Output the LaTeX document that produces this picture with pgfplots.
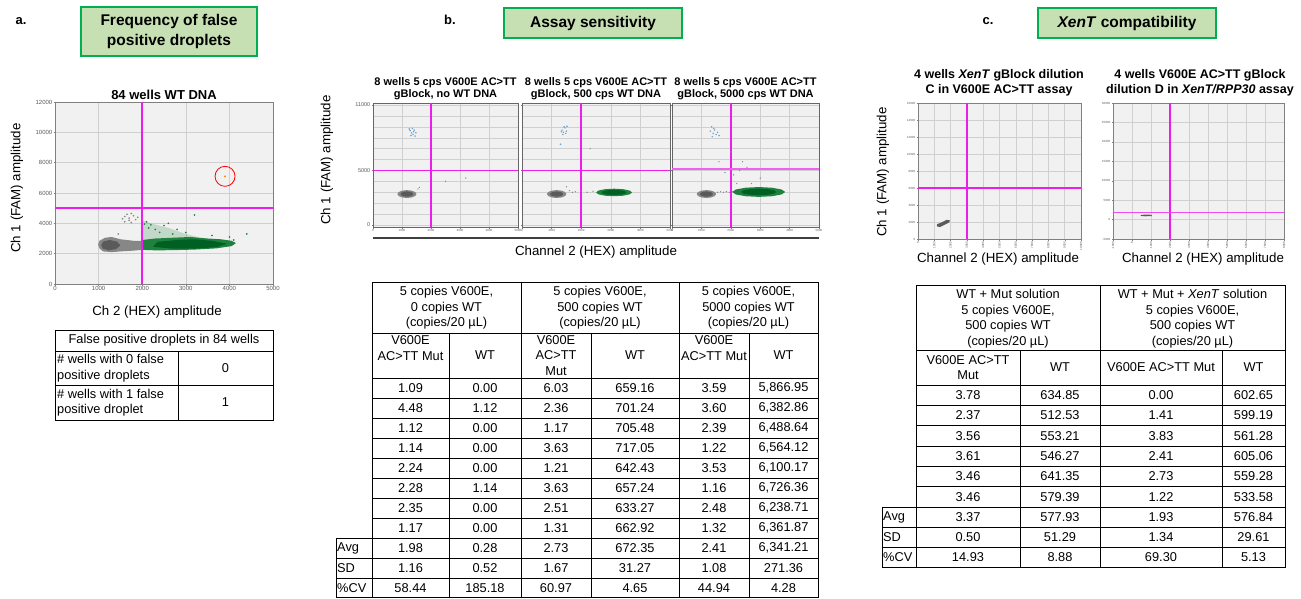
\documentclass[border=0pt]{standalone}
\usepackage{fontspec}
\setmainfont{Liberation Sans}
\usepackage{pgfplots}
\pgfplotsset{compat=1.18}

\definecolor{magen}{RGB}{235,30,235}
\definecolor{bggray}{RGB}{241,241,241}
\definecolor{gridg}{RGB}{208,208,208}
\definecolor{dgray}{RGB}{90,90,90}
\definecolor{lgray}{RGB}{135,135,135}
\definecolor{dgreen}{RGB}{0,95,35}
\definecolor{lgreen}{RGB}{30,130,60}
\definecolor{dblue}{RGB}{110,160,200}
\definecolor{boxfill}{RGB}{198,224,180}
\definecolor{boxedge}{RGB}{0,176,80}

\pgfplotsset{
  ddpcr/.style={
    scale only axis,
    anchor=south west,
    axis background/.style={fill=bggray},
    axis line style={draw=gray, line width=0.8pt},
    grid style={gridg, line width=0.5pt},
    major grid style={gridg, line width=0.5pt},
    minor grid style={gridg, line width=0.4pt},
    tick style={draw=gray, line width=0.4pt},
    major tick length=1.5pt,
    minor tick length=0pt,
    tick align=outside,
    xtick pos=bottom, ytick pos=left,
    scaled ticks=false,
    /pgf/number format/assume math mode=true,
    /pgf/number format/set thousands separator={},
    ticklabel style={text=dgray},
    xticklabel style={inner sep=1pt},
    yticklabel style={inner sep=1pt},
  },
  bpanel/.style={
    ddpcr, height=124pt,
    xmin=0, xmax=5000, ymin=-180, ymax=11180,
    xtick={0,1000,...,5000}, ytick={0,5000,11000},
    minor ytick={1000,2000,3000,4000,6000,7000,8000,9000,10000},
    grid=both,
    axis line style={draw=gray!80!black, line width=0.8pt},
    yticklabel style={font=\fontsize{5.5}{6}\selectfont},
    xticklabel style={font=\fontsize{3}{4}\selectfont},
  },
  cpanel/.style={
    ddpcr, height=136pt, grid=major,
    yticklabel style={font=\fontsize{3}{4}\selectfont},
    xticklabel style={font=\fontsize{3}{4}\selectfont, rotate=90, anchor=east},
  },
  magline/.style={magen, line width=1.5pt},
}

\newcommand{\tf}{\fontsize{12.8}{15.5}\selectfont}
\newcommand{\rowb}[7]{%
  \node at (410.5,#1) {#2}; \node at (485,#1) {#3}; \node at (556,#1) {#4};
  \node at (635,#1) {#5}; \node at (714,#1) {#6}; \node at (783.5,#1) {#7};}
\newcommand{\rowc}[5]{%
  \node at (968,#1) {#2}; \node at (1060,#1) {#3}; \node at (1161,#1) {#4};
  \node at (1253.5,#1) {#5};}
\newcommand{\grayblob}{%
  \addplot[fill=lgray, draw=none] coordinates {(1500,2840) (1456,3020) (1335,3152) (1170,3200) (1005,3152) (884,3020) (840,2840) (884,2660) (1005,2528) (1170,2480) (1335,2528) (1456,2660)};
  \addplot[fill=dgray, draw=none] coordinates {(1390,2840) (1360,2960) (1280,3048) (1170,3080) (1060,3048) (980,2960) (950,2840) (980,2720) (1060,2632) (1170,2600) (1280,2632) (1360,2720)};}

\begin{document}
\begin{tikzpicture}
\useasboundingbox (0pt,0pt) rectangle (1301pt,-598pt);

% ================= a. =================
\begin{axis}[ddpcr, at={(55pt,-284pt)}, width=218pt, height=182pt,
  xmin=0, xmax=5000, ymin=0, ymax=12000,
  xtick={0,1000,...,5000}, ytick={0,2000,...,12000}, grid=major,
  ticklabel style={font=\fontsize{6}{7}\selectfont}]
  \addplot[fill=lgray, draw=none] coordinates {(990,2600) (1020,2850) (1150,3050) (1300,3100) (1500,2950) (1800,2850) (2000,2850) (2000,2250) (1800,2200) (1500,2150) (1300,2100) (1100,2150) (1020,2350)};
  \addplot[fill=dgray, draw=none] coordinates {(1060,2550) (1100,2800) (1250,2900) (1420,2800) (1500,2550) (1400,2300) (1230,2220) (1100,2330)};
  \addplot[fill=lgreen, draw=none, opacity=0.22] coordinates {(2000,2800) (2000,4200) (2200,4000) (2600,3700) (3000,3300) (3400,3000) (2800,2950)};
  \addplot[fill=lgreen, draw=none] coordinates {(2000,2250) (2000,2900) (2300,3000) (2700,3050) (3100,3100) (3500,3000) (3800,2950) (4050,2850) (4150,2700) (4050,2500) (3700,2350) (3200,2270) (2700,2230) (2300,2220)};
  \addplot[fill=dgreen, draw=none] coordinates {(2250,2450) (2350,2780) (2800,2900) (3200,2950) (3600,2850) (3950,2650) (3700,2430) (3200,2330) (2700,2330)};
  \addplot[only marks, mark=*, mark size=0.6pt, lgray] coordinates {(1550,4300) (1600,4450) (1650,4600) (1700,4350) (1750,4650) (1800,4500) (1700,4200) (1850,4250) (1600,4100) (1900,4400) (1750,4050) (1450,3300)};
  \addplot[only marks, mark=*, mark size=0.6pt, lgreen] coordinates {(2100,4100) (2200,3900) (2500,3850) (2300,3600) (2800,3600) (3000,3400) (3200,4550) (4000,3100) (4100,2900) (4400,3300) (3600,3200) (2600,4000) (2150,3700) (2400,3400) (2700,3300) (2050,3950)};
  \addplot[magline] coordinates {(2000,0) (2000,12000)};
  \addplot[magline] coordinates {(0,5000) (5000,5000)};
  \addplot[only marks, mark=*, mark size=0.7pt, orange] coordinates {(3900,7100)};
  \addplot[only marks, mark=o, mark size=10pt, red, line width=0.8pt] coordinates {(3900,7100)};
\end{axis}

% ================= b. panels =================
\begin{axis}[bpanel, at={(373pt,-227pt)}, width=145pt]
  \grayblob
  \addplot[only marks, mark=*, mark size=0.5pt, dblue] coordinates {(1280,8650) (1330,8450) (1380,8300) (1420,8700) (1450,8150) (1360,8850) (1310,8200) (1480,8450) (1400,8550) (1250,8800)};
  \addplot[only marks, mark=*, mark size=0.4pt, lgray] coordinates {(1550,3300) (1600,3450) (2500,4000) (3200,4300)};
  \addplot[magline] coordinates {(2000,-180) (2000,11180)};
  \addplot[magline] coordinates {(0,5000) (5000,5000)};
\end{axis}
\begin{axis}[bpanel, at={(522pt,-227pt)}, width=148pt, yticklabels={}]
  \grayblob
  \addplot[fill=lgreen, draw=none] coordinates {(3720,2985) (3638,3158) (3415,3284) (3110,3330) (2805,3284) (2582,3158) (2500,2985) (2582,2813) (2805,2686) (3110,2640) (3415,2686) (3638,2813)};
  \addplot[fill=dgreen, draw=none] coordinates {(3530,2985) (3474,3100) (3320,3184) (3110,3215) (2900,3184) (2746,3100) (2690,2985) (2746,2870) (2900,2786) (3110,2755) (3320,2786) (3474,2870)};
  \addplot[only marks, mark=*, mark size=0.5pt, dblue] coordinates {(1350,8700) (1400,8500) (1450,8900) (1500,8600) (1380,8300) (1420,9000) (1300,7400) (1480,8400) (1330,8550) (1520,9050)};
  \addplot[only marks, mark=*, mark size=0.4pt, lgray] coordinates {(1600,3150) (1800,3050) (2000,3100) (2200,3000) (1500,3500) (2300,7000) (2400,3100) (1700,3000)};
  \addplot[magline] coordinates {(2000,-180) (2000,11180)};
  \addplot[magline] coordinates {(0,5000) (5000,5000)};
\end{axis}
\begin{axis}[bpanel, at={(672pt,-227pt)}, width=147pt, yticklabels={}]
  \grayblob
  \addplot[fill=lgreen, draw=none] coordinates {(3850,3030) (3729,3255) (3400,3420) (2950,3480) (2500,3420) (2171,3255) (2050,3030) (2171,2805) (2500,2640) (2950,2580) (3400,2640) (3729,2805)};
  \addplot[fill=dgreen, draw=none] coordinates {(3550,3030) (3470,3180) (3250,3290) (2950,3330) (2650,3290) (2430,3180) (2350,3030) (2430,2880) (2650,2770) (2950,2730) (3250,2770) (3470,2880)};
  \addplot[only marks, mark=*, mark size=0.4pt, lgray] coordinates {(1550,3000) (1650,3050) (1750,3000) (1850,3050) (1950,3000) (2050,3050) (2000,6700) (1600,5800) (2400,5800) (2550,5300) (2300,5000) (2100,4600) (3000,4300) (2700,3800) (1800,4800) (2200,3800)};
  \addplot[only marks, mark=*, mark size=0.5pt, dblue] coordinates {(1300,8600) (1350,9000) (1400,8400) (1450,8700) (1500,8300) (1370,8100) (1550,8500) (1420,8850) (1600,8200)};
  \addplot[magline] coordinates {(2000,-180) (2000,11180)};
  \addplot[magen!70, line width=1.8pt] coordinates {(0,5100) (5000,5100)};
\end{axis}

% ================= c. panels =================
\begin{axis}[cpanel, at={(918pt,-239pt)}, width=163pt,
  xmin=0, xmax=10000, ymin=0, ymax=16000,
  xtick={0,1000,...,10000}, ytick={0,2000,...,16000}]
  \addplot[fill=dgray, draw=none] coordinates {(1150,1500) (1180,1750) (1450,1950) (1750,2250) (1950,2200) (1920,1950) (1650,1700) (1350,1400)};
  \addplot[magline] coordinates {(3000,0) (3000,16000)};
  \addplot[magline] coordinates {(0,6000) (10000,6000)};
\end{axis}
\begin{axis}[cpanel, at={(1113pt,-239pt)}, width=171pt,
  xmin=-1000, xmax=8000, ymin=-5000, ymax=30000,
  xtick={-1000,0,...,8000}, ytick={-5000,0,...,30000}]
  \addplot[fill=dgray, draw=none] coordinates {(450,950) (480,1200) (800,1300) (1050,1200) (1020,900) (700,850)};
  \addplot[magline] coordinates {(2000,-5000) (2000,30000)};
  \addplot[magen!80, line width=1.6pt] coordinates {(-1000,1800) (8000,1800)};
\end{axis}

\begin{scope}[x=1pt, y=-1pt]
\node[font=\fontsize{13}{15}\selectfont\bfseries] at (21,21) {a.};
\node[font=\fontsize{13}{15}\selectfont\bfseries] at (450,20) {b.};
\node[font=\fontsize{13}{15}\selectfont\bfseries] at (988,21) {c.};
\node[draw=boxedge, line width=2.5pt, fill=boxfill, minimum width=176pt, minimum height=49pt, inner sep=0pt, align=center, font=\fontsize{15.5}{20}\selectfont\bfseries] at (169,31.5) {Frequency of false\\positive droplets};
\node[draw=boxedge, line width=2.5pt, fill=boxfill, minimum width=178pt, minimum height=30pt, inner sep=0pt, font=\fontsize{15.5}{20}\selectfont\bfseries] at (593,23) {Assay sensitivity};
\node[draw=boxedge, line width=2.5pt, fill=boxfill, minimum width=178pt, minimum height=30pt, inner sep=0pt, font=\fontsize{15.5}{20}\selectfont\bfseries] at (1127,23) {\textit{XenT} compatibility};

\node[font=\fontsize{13}{15}\selectfont\bfseries] at (164,95) {84 wells WT DNA};
\node[rotate=90, font=\fontsize{13.3}{15}\selectfont] at (17,188) {Ch 1 (FAM) amplitude};
\node[font=\fontsize{13.3}{15}\selectfont] at (157,312) {Ch 2 (HEX) amplitude};

\foreach \cx/\ln in {445.5/{no WT DNA}, 596/{500 cps WT DNA}, 745.5/{5000 cps WT DNA}}
  \node[align=center, font=\fontsize{11}{12.5}\selectfont\bfseries] at (\cx,88.5) {8 wells 5 cps V600E AC>TT\\gBlock, \ln};
\node[rotate=90, font=\fontsize{13.3}{15}\selectfont] at (327,160) {Ch 1 (FAM) amplitude};
\draw[line width=1.3pt, black!75] (373,238) -- (819,238);
\node[font=\fontsize{13.3}{15}\selectfont] at (596,252) {Channel 2 (HEX) amplitude};

\node[align=center, font=\fontsize{12.5}{15.5}\selectfont\bfseries] at (999,83) {4 wells \textit{XenT} gBlock dilution\\C in V600E AC>TT assay};
\node[align=center, font=\fontsize{12.5}{15.5}\selectfont\bfseries] at (1200,83) {4 wells V600E AC>TT gBlock\\dilution D in \textit{XenT/RPP30} assay};
\node[rotate=90, font=\fontsize{13.3}{15}\selectfont] at (883,172) {Ch 1 (FAM) amplitude};
\node[font=\fontsize{13.3}{15}\selectfont] at (998,259) {Channel 2 (HEX) amplitude};
\node[font=\fontsize{13.3}{15}\selectfont] at (1203,259) {Channel 2 (HEX) amplitude};

% ---- table a ----
\begin{scope}[line width=0.8pt]
\draw (55,330) rectangle (273,420);
\draw (55,351) -- (273,351);
\draw (55,385) -- (273,385);
\draw (178,351) -- (178,420);
\end{scope}
\begin{scope}[font=\tf]
\node at (164,340.5) {False positive droplets in 84 wells};
\node[anchor=west, align=left, inner sep=2pt] at (55,368) {\# wells with 0 false\\positive droplets};
\node[anchor=west, align=left, inner sep=2pt] at (55,402.5) {\# wells with 1 false\\positive droplet};
\node at (225.5,368) {0};
\node at (225.5,402.5) {1};
\end{scope}

% ---- table b ----
\begin{scope}[line width=0.8pt]
\draw (372,282) rectangle (818,597.6);
\foreach \yy in {333,378,398,418,438,458,478,498,518} \draw (372,\yy) -- (818,\yy);
\foreach \yy in {538,558,578} \draw (336,\yy) -- (818,\yy);
\draw (336,597.6) -- (372,597.6);
\draw (336,538) -- (336,597.6);
\foreach \xx in {521,679} \draw (\xx,282) -- (\xx,597.6);
\foreach \xx in {449,591,749} \draw (\xx,333) -- (\xx,597.6);
\end{scope}
\begin{scope}[font=\tf]
\node[align=center] at (446.5,308) {5 copies V600E,\\0 copies WT\\(copies/20 µL)};
\node[align=center] at (600,308) {5 copies V600E,\\500 copies WT\\(copies/20 µL)};
\node[align=center] at (748.5,308) {5 copies V600E,\\5000 copies WT\\(copies/20 µL)};
\node[align=center] at (410.5,348) {V600E\\AC>TT Mut};
\node at (485,355.5) {WT};
\node[align=center] at (556,355.5) {V600E\\AC>TT\\Mut};
\node at (635,355.5) {WT};
\node[align=center] at (714,348) {V600E\\AC>TT Mut};
\node at (783.5,355.5) {WT};
\rowb{388}{1.09}{0.00}{6.03}{659.16}{3.59}{5,866.95}
\rowb{408}{4.48}{1.12}{2.36}{701.24}{3.60}{6,382.86}
\rowb{428}{1.12}{0.00}{1.17}{705.48}{2.39}{6,488.64}
\rowb{448}{1.14}{0.00}{3.63}{717.05}{1.22}{6,564.12}
\rowb{468}{2.24}{0.00}{1.21}{642.43}{3.53}{6,100.17}
\rowb{488}{2.28}{1.14}{3.63}{657.24}{1.16}{6,726.36}
\rowb{508}{2.35}{0.00}{2.51}{633.27}{2.48}{6,238.71}
\rowb{528}{1.17}{0.00}{1.31}{662.92}{1.32}{6,361.87}
\rowb{548}{1.98}{0.28}{2.73}{672.35}{2.41}{6,341.21}
\rowb{568}{1.16}{0.52}{1.67}{31.27}{1.08}{271.36}
\rowb{588}{58.44}{185.18}{60.97}{4.65}{44.94}{4.28}
\node[anchor=west, inner sep=1pt] at (336,548) {Avg};
\node[anchor=west, inner sep=1pt] at (336,568) {SD};
\node[anchor=west, inner sep=1pt] at (336,588) {\%CV};
\end{scope}

% ---- table c ----
\begin{scope}[line width=0.8pt]
\draw (916,285) rectangle (1285,567);
\foreach \yy in {350,385,405,425.5,446,466,486.5} \draw (916,\yy) -- (1285,\yy);
\foreach \yy in {507,527,547} \draw (882,\yy) -- (1285,\yy);
\draw (882,567) -- (916,567);
\draw (882,507) -- (882,567);
\draw (1100,285) -- (1100,567);
\foreach \xx in {1020,1222} \draw (\xx,350) -- (\xx,567);
\end{scope}
\begin{scope}[font=\tf]
\node[align=center] at (1008,318.5) {WT + Mut solution\\5 copies V600E,\\500 copies WT\\(copies/20 µL)};
\node[align=center] at (1192.5,318.5) {WT + Mut + \textit{XenT} solution\\5 copies V600E,\\500 copies WT\\(copies/20 µL)};
\node[align=center] at (968,367.5) {V600E AC>TT\\Mut};
\node at (1060,367.5) {WT};
\node at (1161,367.5) {V600E AC>TT Mut};
\node at (1253.5,367.5) {WT};
\rowc{395.5}{3.78}{634.85}{0.00}{602.65}
\rowc{415.5}{2.37}{512.53}{1.41}{599.19}
\rowc{436}{3.56}{553.21}{3.83}{561.28}
\rowc{456}{3.61}{546.27}{2.41}{605.06}
\rowc{476}{3.46}{641.35}{2.73}{559.28}
\rowc{497}{3.46}{579.39}{1.22}{533.58}
\rowc{517}{3.37}{577.93}{1.93}{576.84}
\rowc{537}{0.50}{51.29}{1.34}{29.61}
\rowc{557}{14.93}{8.88}{69.30}{5.13}
\node[anchor=west, inner sep=1pt] at (882,517) {Avg};
\node[anchor=west, inner sep=1pt] at (882,537) {SD};
\node[anchor=west, inner sep=1pt] at (882,557) {\%CV};
\end{scope}
\end{scope}
\end{tikzpicture}
\end{document}
